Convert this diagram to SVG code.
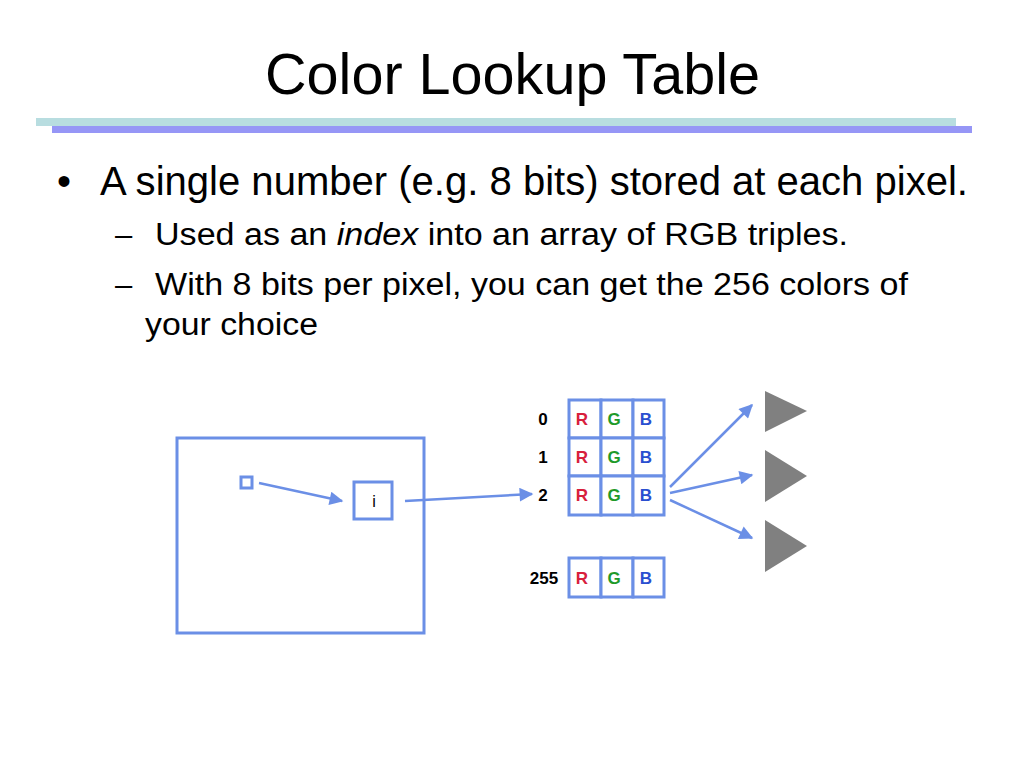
<svg xmlns="http://www.w3.org/2000/svg" width="1024" height="768" viewBox="0 0 1024 768">
<style>
text{font-family:"Liberation Sans",Arial,sans-serif;fill:#000}
.box{fill:#fff;stroke:#6b8fe6;stroke-width:3}
.cell{fill:#fff;stroke:#6b8fe6;stroke-width:3}
.ln{stroke:#6b8fe6;stroke-width:2.5;fill:none;marker-end:url(#ah)}
.lbl{font-size:17px;font-weight:bold;text-anchor:middle}
.r{fill:#d8203c;font-size:17px;font-weight:bold;text-anchor:middle}
.g{fill:#1e9a2a;font-size:17px;font-weight:bold;text-anchor:middle}
.b{fill:#2a4fd0;font-size:17px;font-weight:bold;text-anchor:middle}
.tri{fill:#808080}
</style>
<defs>
<marker id="ah" viewBox="0 0 10 10" refX="9" refY="5" markerWidth="8" markerHeight="5.5" orient="auto" markerUnits="strokeWidth">
<path d="M0,0 L10,5 L0,10 z" fill="#6b8fe6"/>
</marker>
</defs>
<rect width="1024" height="768" fill="#fff"/>
<text x="265" y="94" font-size="58" textLength="495" lengthAdjust="spacingAndGlyphs">Color Lookup Table</text>
<rect x="36" y="118" width="920" height="8" fill="#b8dde0"/>
<rect x="52" y="126" width="920" height="7" fill="#9696f6"/>
<text x="57" y="195" font-size="40">•</text>
<text x="100" y="195" font-size="40" textLength="868" lengthAdjust="spacingAndGlyphs">A single number (e.g. 8 bits) stored at each pixel.</text>
<text x="115" y="245" font-size="31">–</text>
<text x="155" y="245" font-size="31" textLength="693" lengthAdjust="spacingAndGlyphs">Used as an <tspan font-style="italic">index</tspan> into an array of RGB triples.</text>
<text x="115" y="295" font-size="31">–</text>
<text x="155" y="295" font-size="31" textLength="753" lengthAdjust="spacingAndGlyphs">With 8 bits per pixel, you can get the 256 colors of</text>
<text x="145" y="335" font-size="31" textLength="173" lengthAdjust="spacingAndGlyphs">your choice</text>

<g id="image">
<rect class="box" x="177" y="438" width="247" height="195"/>
</g>
<g id="pixel">
<rect class="box" x="241" y="477" width="11" height="11"/>
</g>
<g id="index">
<rect class="box" x="354" y="482" width="38" height="37"/>
<text x="374" y="507" font-size="16" text-anchor="middle">i</text>
</g>
<g id="table">
<text class="lbl" x="543" y="425">0</text>
<text class="lbl" x="543" y="463">1</text>
<text class="lbl" x="543" y="501">2</text>
<g id="row0">
<rect class="cell" x="569" y="400" width="32" height="38"/><rect class="cell" x="601" y="400" width="32" height="38"/><rect class="cell" x="633" y="400" width="31" height="38"/>
<text class="r" x="582" y="425">R</text><text class="g" x="614" y="425">G</text><text class="b" x="646" y="425">B</text>
</g>
<g id="row1">
<rect class="cell" x="569" y="438" width="32" height="38"/><rect class="cell" x="601" y="438" width="32" height="38"/><rect class="cell" x="633" y="438" width="31" height="38"/>
<text class="r" x="582" y="463">R</text><text class="g" x="614" y="463">G</text><text class="b" x="646" y="463">B</text>
</g>
<g id="row2">
<rect class="cell" x="569" y="476" width="32" height="39"/><rect class="cell" x="601" y="476" width="32" height="39"/><rect class="cell" x="633" y="476" width="31" height="39"/>
<text class="r" x="582" y="501">R</text><text class="g" x="614" y="501">G</text><text class="b" x="646" y="501">B</text>
</g>
<g id="row255">
<text class="lbl" x="544" y="584">255</text>
<rect class="cell" x="569" y="558" width="32" height="39"/><rect class="cell" x="601" y="558" width="32" height="39"/><rect class="cell" x="633" y="558" width="31" height="39"/>
<text class="r" x="582" y="584">R</text><text class="g" x="614" y="584">G</text><text class="b" x="646" y="584">B</text>
</g>
</g>
<g id="outputs">
<polygon class="tri" points="765,391 807,411 765,432"/>
<polygon class="tri" points="765,450 807,476 765,502"/>
<polygon class="tri" points="765,520 807,546 765,572"/>
</g>
<g id="connectors">
<line class="ln" x1="259" y1="483" x2="342" y2="501"/>
<line class="ln" x1="405" y1="501" x2="532" y2="494"/>
<line class="ln" x1="670" y1="487" x2="752" y2="405"/>
<line class="ln" x1="670" y1="493" x2="752" y2="475"/>
<line class="ln" x1="670" y1="500" x2="752" y2="538"/>
</g>
</svg>
